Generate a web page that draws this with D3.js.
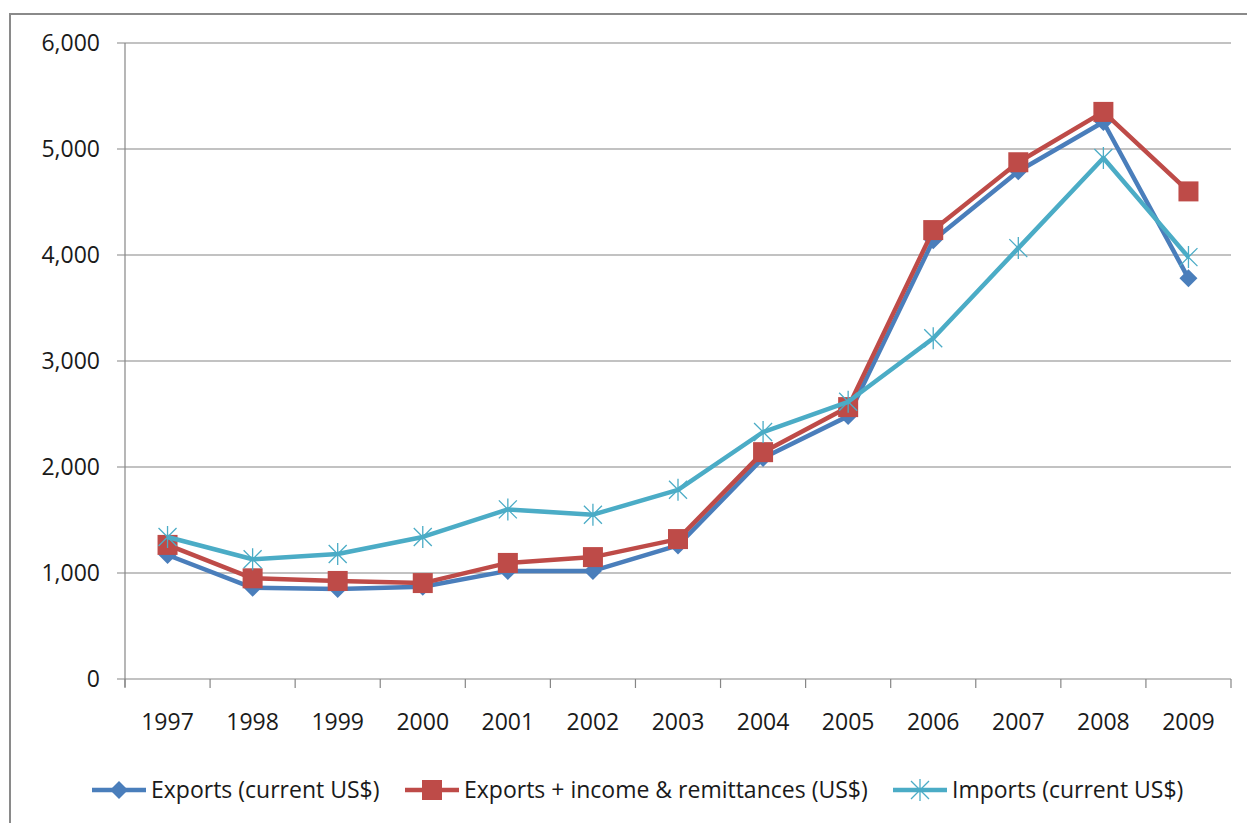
<!DOCTYPE html>
<html><head><meta charset="utf-8">
<script src="https://cdn.jsdelivr.net/npm/d3@7/dist/d3.min.js"></script>
<style>body{margin:0;background:#fff}svg{display:block}</style>
</head><body><svg id="c" width="1247" height="823"></svg>
<script>
const years = ["1997","1998","1999","2000","2001","2002","2003","2004","2005","2006","2007","2008","2009"];
const exportsVals = [1170,860,850,870,1020,1020,1260,2085,2480,4140,4790,5255,3780];
const exportsIncomeVals = [1265,950,925,905,1095,1150,1320,2140,2565,4235,4875,5350,4600];
const importsVals = [1340,1130,1180,1340,1600,1550,1785,2330,2615,3215,4065,4915,3980];
const yTicks = [0,1000,2000,3000,4000,5000,6000];
const seriesNames = ["Exports (current US$)","Exports + income & remittances (US$)","Imports (current US$)"];
const colors = ["#4A7EBB","#BE4B48","#4BACC6"];

const svg = d3.select("#c");
const font = "'Open Sans', sans-serif";
const fs = 23;
// outer frame
svg.append("path").attr("d","M10,823V14H1247").attr("fill","none").attr("stroke","#8a8a8a").attr("stroke-width",2);

const L=125, R=1231, T=43, B=679;
const x = d3.scaleBand().domain(years).range([L,R]);
const y = d3.scaleLinear().domain([0,6000]).range([B,T]);

// gridlines
svg.append("g").selectAll("line").data(yTicks).join("line")
  .attr("x1",L-8).attr("x2",R).attr("y1",d=>y(d)).attr("y2",d=>y(d))
  .attr("stroke","#868686").attr("stroke-width",1.2);
// y axis line
svg.append("line").attr("x1",L).attr("x2",L).attr("y1",T).attr("y2",B+8).attr("stroke","#868686").attr("stroke-width",1.2);
// y labels
svg.append("g").selectAll("text").data(yTicks).join("text")
  .attr("x",100).attr("y",d=>y(d)).attr("dy","0.36em").attr("text-anchor","end")
  .attr("font-family",font).attr("font-size",fs).attr("fill","#1a1a1a")
  .text(d=>d3.format(",")(d));
// x ticks
const xt = years.map(d=>x(d)).concat([R]);
svg.append("g").selectAll("line").data(xt).join("line")
  .attr("x1",d=>d).attr("x2",d=>d).attr("y1",B).attr("y2",B+9)
  .attr("stroke","#868686").attr("stroke-width",1.2);
svg.append("g").selectAll("text").data(years).join("text")
  .attr("x",d=>x(d)+x.bandwidth()/2).attr("y",722).attr("dy","0.36em").attr("text-anchor","middle")
  .attr("font-family",font).attr("font-size",fs).attr("fill","#1a1a1a").text(d=>d);

const cx = d=>x(d)+x.bandwidth()/2;
const line = d3.line().x((v,i)=>cx(years[i])).y(v=>y(v));
const all = [exportsVals, exportsIncomeVals, importsVals];

function marker(g, type, px, py, col){
  if(type===0){
    g.append("path").attr("d",`M${px},${py-9}L${px+9},${py}L${px},${py+9}L${px-9},${py}Z`).attr("fill",col);
  } else if(type===1){
    g.append("rect").attr("x",px-10).attr("y",py-10).attr("width",20).attr("height",20).attr("fill",col);
  } else {
    const s=9;
    g.append("path").attr("d",`M${px-s},${py-s}L${px+s},${py+s}M${px-s},${py+s}L${px+s},${py-s}M${px},${py-s-2}L${px},${py+s+2}`)
      .attr("stroke",col).attr("stroke-width",1.3).attr("fill","none");
  }
}

all.forEach((vals,k)=>{
  const g = svg.append("g");
  g.append("path").attr("d",line(vals)).attr("fill","none").attr("stroke",colors[k]).attr("stroke-width",4.5).attr("stroke-linejoin","round");
  vals.forEach((v,i)=>marker(g,k,cx(years[i]),y(v),colors[k]));
});

// legend
const legX = [92, 405, 893];
const lg = svg.append("g");
seriesNames.forEach((n,k)=>{
  const x0 = legX[k], yy = 790;
  lg.append("line").attr("x1",x0).attr("x2",x0+54).attr("y1",yy).attr("y2",yy).attr("stroke",colors[k]).attr("stroke-width",4.5);
  marker(lg,k,x0+27,yy,colors[k]);
  lg.append("text").attr("x",x0+59).attr("y",yy).attr("dy","0.36em").attr("font-family",font).attr("font-size",fs).attr("fill","#1a1a1a").text(n);
});
</script></body></html>
